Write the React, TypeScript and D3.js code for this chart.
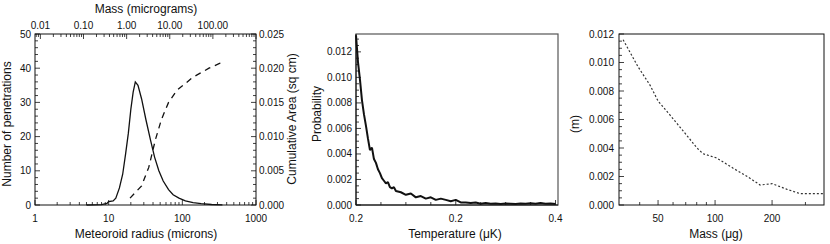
import React from 'react';
import * as d3 from 'd3';

// panel 1: penetrations vs meteoroid radius (solid) + cumulative area (dashed)
const radiusSolid = [5, 8, 9.5, 10, 11.5, 12.5, 14, 15.5, 17, 18.5, 20, 21.5, 23, 25, 28, 32, 37, 42, 48, 55, 65, 75, 90, 110, 140, 180, 250, 350];
const penetrations = [0, 0.1, 0.5, 1.0, 1.2, 2, 5, 9, 15, 21, 28, 33, 36, 35, 31, 25, 19, 14, 10, 7, 4.5, 3, 2, 1.2, 0.7, 0.4, 0.15, 0.05];
const radiusDashed = [19.5, 22, 28, 35, 43, 52, 65, 85, 111, 140, 170, 230, 320, 350];
const cumArea = [0.001, 0.0016, 0.0028, 0.0055, 0.0095, 0.0125, 0.015, 0.0168, 0.0178, 0.0187, 0.0192, 0.02, 0.0207, 0.0208];
const radiusTicks = [1, 10, 100, 1000];
const massTopTicks = [0.01, 0.1, 1, 10, 100];
const massTopLabels = ['0.01', '0.10', '1.00', '10.00', '100.00'];
const penTicks = [0, 10, 20, 30, 40, 50];
const areaTicks = [0, 0.005, 0.01, 0.015, 0.02, 0.025];

// panel 2: probability vs temperature
const temps = [0.2, 0.202, 0.204, 0.206, 0.208, 0.21, 0.212, 0.214, 0.216, 0.218, 0.22, 0.222, 0.224, 0.226, 0.228, 0.23, 0.232, 0.234, 0.236, 0.238, 0.24,
  0.245, 0.25, 0.255, 0.26, 0.265, 0.27, 0.275, 0.28, 0.285, 0.29, 0.295, 0.3, 0.305, 0.31, 0.315, 0.32, 0.325, 0.33, 0.335, 0.34, 0.345, 0.35, 0.355, 0.36,
  0.365, 0.37, 0.375, 0.38, 0.385, 0.39, 0.395, 0.4];
const probs = [0.0133, 0.0112, 0.0098, 0.0082, 0.0071, 0.0062, 0.0052, 0.0043, 0.0045, 0.0036, 0.0033, 0.0028, 0.0025, 0.0021, 0.0019, 0.0017, 0.0018, 0.0014, 0.0013, 0.0014, 0.0011,
  0.001, 0.0008, 0.0009, 0.0006, 0.0007, 0.0005, 0.0006, 0.0004, 0.0005, 0.0004, 0.0003, 0.0004, 0.0002, 0.0002, 0.00015, 0.0002, 0.0001, 0.00015, 0.0001, 0.00012, 0.00008, 0.00012, 0.0001, 0.00008,
  0.00012, 0.0001, 0.00014, 0.0001, 0.00015, 0.0001, 0.00012, 0.00008];
const tempTicks = [0.2, 0.3, 0.4];
const tempLabels = ['0.2', '0.2', '0.4'];
const probTicks = [0, 0.002, 0.004, 0.006, 0.008, 0.01, 0.012];

// panel 3: (m) vs mass
const masses = [32.7, 39.2, 45.4, 50, 57.9, 67.8, 80.3, 86.4, 102, 124, 148, 173, 200, 240, 281, 372];
const mValues = [0.0116, 0.0097, 0.0084, 0.0073, 0.0063, 0.0052, 0.004, 0.0036, 0.0033, 0.0026, 0.002, 0.0014, 0.0015, 0.0011, 0.0008, 0.0008];
const massTicks = [50, 100, 200];
const mTicks = [0, 0.002, 0.004, 0.006, 0.008, 0.01, 0.012];

const FONT = 'Liberation Sans, Arial, sans-serif';
const INK = '#111';

const f3 = d3.format('.3f');

export default function App() {
  const top = 34, bottom = 205;

  // panel 1 scales
  const x1 = d3.scaleLog().domain([1, 1000]).range([35, 256]);
  const xTop = d3.scaleLog().domain([0.0075, 1000]).range([35, 256]);
  const yL = d3.scaleLinear().domain([0, 50]).range([bottom, top]);
  const yR = d3.scaleLinear().domain([0, 0.025]).range([bottom, top]);

  // panel 2 scales
  const x2 = d3.scaleLinear().domain([0.2, 0.4025]).range([356, 558]);
  const y2 = d3.scaleLinear().domain([0, 0.0134]).range([bottom, top]);

  // panel 3 scales
  const x3 = d3.scaleLog().domain([31.1, 376]).range([619, 824]);
  const y3 = d3.scaleLinear().domain([0, 0.012]).range([bottom, top]);

  const solidLine = d3.line<number>().x((_, i) => x1(radiusSolid[i])).y(d => yL(d));
  const dashLine = d3.line<number>().x((_, i) => x1(radiusDashed[i])).y(d => yR(d));
  const probLine = d3.line<number>().x((_, i) => x2(temps[i])).y(d => y2(d));
  const mLine = d3.line<number>().x((_, i) => x3(masses[i])).y(d => y3(d));

  const vTick = (x: number, y: number, len: number, key: string) => (
    <line key={key} x1={x} x2={x} y1={y} y2={y + len} stroke={INK} strokeWidth={0.8} />
  );
  const hTick = (x: number, y: number, len: number, key: string) => (
    <line key={key} x1={x} x2={x + len} y1={y} y2={y} stroke={INK} strokeWidth={0.8} />
  );

  const isDecade = (v: number) => Math.abs(Math.log10(v) - Math.round(Math.log10(v))) < 1e-6;

  return (
    <svg width={830} height={244} style={{ position: 'absolute', left: 0, top: 0, background: '#fff' }} fontFamily={FONT}>
      {/* ---------- panel 1 ---------- */}
      <g>
        <rect x={35} y={top} width={221} height={bottom - top} fill="none" stroke={INK} strokeWidth={1} />
        {x1.ticks().map((t, i) => vTick(x1(t), bottom, isDecade(t) ? -5 : -3, 'b' + i))}
        {xTop.ticks().filter(t => xTop(t) >= 35 && xTop(t) <= 256).map((t, i) => vTick(xTop(t), top, isDecade(t) ? 5 : 3, 't' + i))}
        {d3.range(0, 51, 2).map((t, i) => hTick(35, yL(t), t % 10 === 0 ? 5 : 3, 'l' + i))}
        {d3.range(0, 0.0251, 0.001).map((t, i) => hTick(256, yR(t), i % 5 === 0 ? -5 : -3, 'r' + i))}
        {radiusTicks.map(t => (
          <text key={t} x={x1(t)} y={222} fontSize={10} textAnchor="middle" fill={INK}>{t}</text>
        ))}
        {massTopTicks.map((t, i) => (
          <text key={t} x={xTop(t)} y={29} fontSize={10} textAnchor="middle" fill={INK}>{massTopLabels[i]}</text>
        ))}
        {penTicks.map(t => (
          <text key={t} x={31} y={yL(t)} dy="0.35em" fontSize={10} textAnchor="end" fill={INK}>{t}</text>
        ))}
        {areaTicks.map(t => (
          <text key={t} x={259} y={yR(t)} dy="0.35em" fontSize={10} textAnchor="start" fill={INK}>{f3(t)}</text>
        ))}
        <text x={146} y={13} fontSize={12} textAnchor="middle" fill={INK}>Mass (micrograms)</text>
        <text x={146} y={238} fontSize={12} textAnchor="middle" fill={INK}>Meteoroid radius (microns)</text>
        <text transform="translate(8,124) rotate(-90)" fontSize={12} textAnchor="middle" dominantBaseline="middle" fill={INK}>Number of penetrations</text>
        <text transform="translate(293,119) rotate(-90)" fontSize={12} textAnchor="middle" dominantBaseline="middle" fill={INK}>Cumulative Area (sq cm)</text>
        <path d={solidLine(penetrations) ?? ''} fill="none" stroke={INK} strokeWidth={1.3} />
        <path d={dashLine(cumArea) ?? ''} fill="none" stroke={INK} strokeWidth={1.3} strokeDasharray="6,5" />
      </g>

      {/* ---------- panel 2 ---------- */}
      <g>
        <rect x={356} y={top} width={202} height={bottom - top} fill="none" stroke="#555" strokeWidth={1.2} />
        <line x1={356} x2={356} y1={top} y2={bottom} stroke={INK} />
        <line x1={356} x2={558} y1={bottom} y2={bottom} stroke={INK} />
        {d3.range(0.2, 0.401, 0.025).map((t, i) => vTick(x2(t), bottom, i % 4 === 0 ? -5 : -3, 'x2' + i))}
        {d3.range(0, 0.0134, 0.0005).map((t, i) => hTick(356, y2(t), i % 4 === 0 ? 5 : 3, 'y2' + i))}
        {tempTicks.map((t, i) => (
          <text key={i} x={x2(t)} y={222} fontSize={10} textAnchor="middle" fill={INK}>{tempLabels[i]}</text>
        ))}
        {probTicks.map(t => (
          <text key={t} x={352} y={y2(t)} dy="0.35em" fontSize={10} textAnchor="end" fill={INK}>{f3(t)}</text>
        ))}
        <text x={455} y={238} fontSize={12} textAnchor="middle" fill={INK}>Temperature (μK)</text>
        <text transform="translate(318,114) rotate(-90)" fontSize={12} textAnchor="middle" dominantBaseline="middle" fill={INK}>Probability</text>
        <path d={probLine(probs) ?? ''} fill="none" stroke={INK} strokeWidth={2} strokeLinejoin="bevel" />
      </g>

      {/* ---------- panel 3 ---------- */}
      <g>
        <rect x={619} y={top} width={205} height={bottom - top} fill="none" stroke={INK} strokeWidth={1} />
        {x3.ticks().filter(t => x3(t) > 620 && x3(t) < 823).map((t, i) => vTick(x3(t), bottom, massTicks.includes(t) ? -5 : -3, 'x3' + i))}
        {d3.range(0, 0.01201, 0.0005).map((t, i) => hTick(619, y3(t), i % 4 === 0 ? 5 : 3, 'y3' + i))}
        {massTicks.map(t => (
          <text key={t} x={x3(t)} y={222} fontSize={10} textAnchor="middle" fill={INK}>{t}</text>
        ))}
        {mTicks.map(t => (
          <text key={t} x={614} y={y3(t)} dy="0.35em" fontSize={10} textAnchor="end" fill={INK}>{f3(t)}</text>
        ))}
        <text x={716} y={238} fontSize={12} textAnchor="middle" fill={INK}>Mass (μg)</text>
        <text transform="translate(576,124) rotate(-90)" fontSize={12} textAnchor="middle" dominantBaseline="middle" fill={INK}>(m)</text>
        <path d={mLine(mValues) ?? ''} fill="none" stroke="#333" strokeWidth={1.2} strokeDasharray="2,2" />
      </g>
    </svg>
  );
}
